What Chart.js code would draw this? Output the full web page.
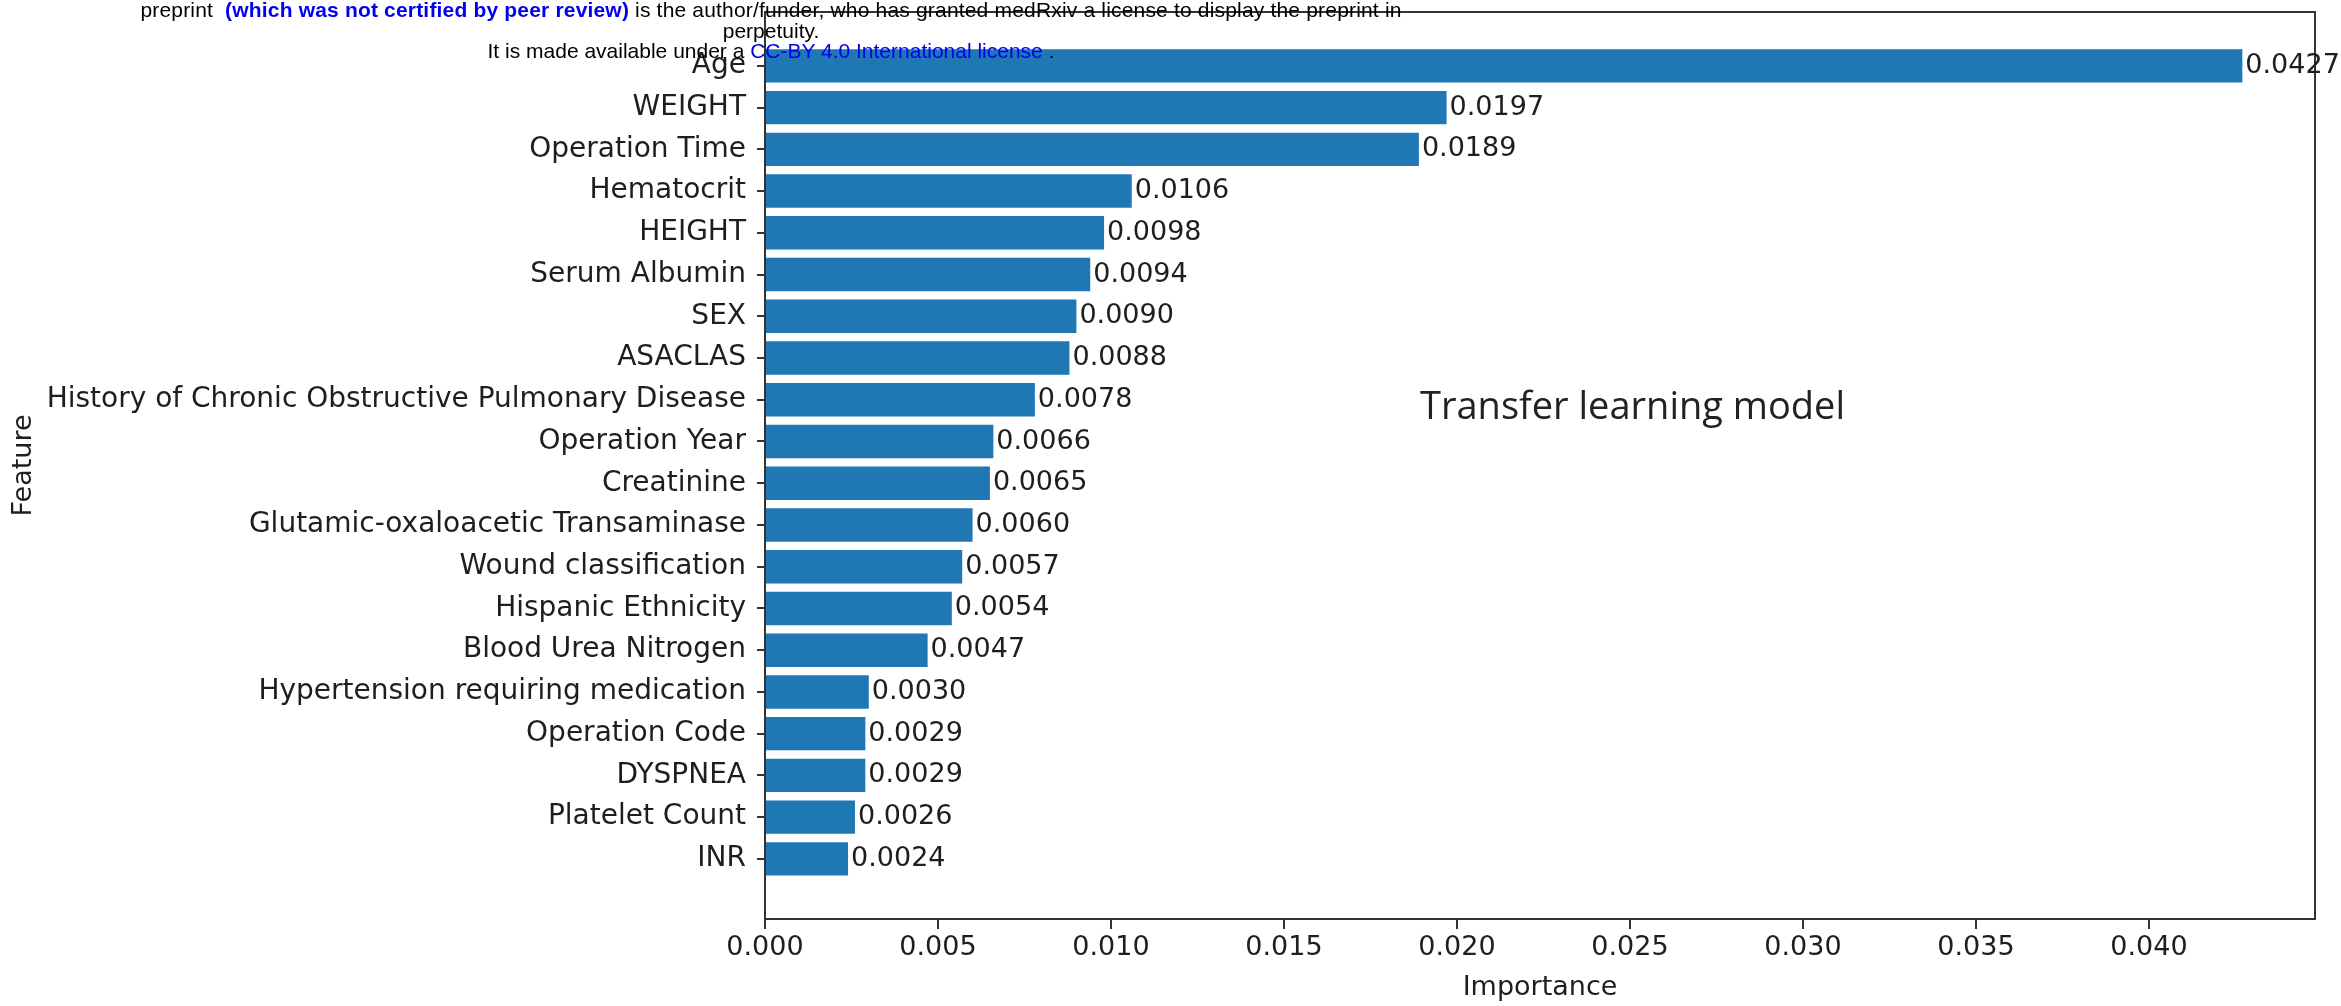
<!DOCTYPE html>
<html>
<head>
<meta charset="utf-8">
<title>Feature importance - transfer learning model</title>
<script src="https://cdn.jsdelivr.net/npm/chart.js@4.4.0/dist/chart.umd.min.js"></script>
<style>
  body { margin: 0; background: #fff; }
  #wrap { position: relative; width: 2341px; height: 1006px; overflow: hidden; }
  #notice {
    position: absolute; left: 0; top: 0; width: 1542px;
    text-align: center; white-space: pre; color: #000;
    font: 21px/20.5px "Liberation Sans", Arial, sans-serif;
  }
  #notice .first { letter-spacing: 0.18px; }
  #notice .blue { color: #0000ee; }
  #model {
    position: absolute; left: 1420px; top: 385px; white-space: nowrap;
    font: 38px/38px "Open Sans", sans-serif; color: #222;
  }
</style>
</head>
<body>
<div id="wrap">
  <canvas id="chart"></canvas>
  <div id="notice"><div class="first">preprint  <b class="blue">(which was not certified by peer review)</b> is the author/funder, who has granted medRxiv a license to display the preprint in</div><div>perpetuity.</div><div>It is made available under a <span class="blue">CC-BY 4.0 International license</span> .</div></div>
  <div id="model">Transfer learning model</div>
</div>
<script>
// features, top to bottom
const features = [
  "Age", "WEIGHT", "Operation Time", "Hematocrit", "HEIGHT",
  "Serum Albumin", "SEX", "ASACLAS",
  "History of Chronic Obstructive Pulmonary Disease",
  "Operation Year", "Creatinine", "Glutamic-oxaloacetic Transaminase",
  "Wound classification", "Hispanic Ethnicity", "Blood Urea Nitrogen",
  "Hypertension requiring medication", "Operation Code", "DYSPNEA",
  "Platelet Count", "INR"
];
const importance = [
  0.0427, 0.0197, 0.0189, 0.0106, 0.0098,
  0.0094, 0.0090, 0.0088,
  0.0078,
  0.0066, 0.0065, 0.0060,
  0.0057, 0.0054, 0.0047,
  0.0030, 0.0029, 0.0029,
  0.0026, 0.0024
];
const xTicks = [0.000, 0.005, 0.010, 0.015, 0.020, 0.025, 0.030, 0.035, 0.040];

const textColor = "#1e1e1e";
const lineColor = "#333";
const barColor = "#1f77b4";

Chart.defaults.font.family = "'DejaVu Sans'";
Chart.defaults.font.size = 27;
Chart.defaults.color = textColor;

// frame around the axes and the value printed at the end of each bar
const barValueLabels = {
  id: "barValueLabels",
  afterDatasetsDraw(chart) {
    const { ctx, chartArea } = chart;
    ctx.save();
    ctx.strokeStyle = lineColor;
    ctx.lineWidth = 2;
    ctx.strokeRect(chartArea.left, chartArea.top,
      chartArea.right - chartArea.left, chartArea.bottom - chartArea.top);
    ctx.font = "27px 'DejaVu Sans'";
    ctx.fillStyle = textColor;
    ctx.textBaseline = "middle";
    ctx.textAlign = "left";
    chart.getDatasetMeta(0).data.forEach((bar, i) => {
      ctx.fillText(importance[i].toFixed(4), bar.x + 3, bar.y);
    });
    ctx.restore();
  }
};

const ctx = document.getElementById("chart").getContext("2d");
new Chart(ctx, {
  type: "bar",
  data: {
    datasets: [{
      label: "Importance",
      data: features.map((f, i) => ({ x: importance[i], y: i })),
      backgroundColor: barColor,
      borderWidth: 0,
      barPercentage: 0.8,
      categoryPercentage: 1.0,
    }],
  },
  options: {
    indexAxis: "y",
    responsive: true,
    maintainAspectRatio: false,
    animation: false,
    layout: { padding: { top: 12, right: 26, left: 0, bottom: 0 } },
    plugins: {
      legend: { display: false },
      tooltip: { enabled: false },
    },
    scales: {
      x: {
        type: "linear",
        position: "bottom",
        offset: false,
        min: 0,
        max: 0.0448,
        afterBuildTicks: (s) => { s.ticks = xTicks.map((v) => ({ value: v })); },
        afterFit: (s) => { s.height = 87; s.paddingLeft = 0; s.paddingRight = 0; },
        ticks: {
          padding: 3,
          callback: (v) => Number(v).toFixed(3),
        },
        grid: { offset: false, drawOnChartArea: false, tickLength: 10, color: lineColor, lineWidth: 2 },
        border: { display: true, color: lineColor, width: 2 },
        title: {
          display: true,
          text: "Importance",
          padding: { top: 0, bottom: 2 },
        },
      },
      y: {
        type: "linear",
        reverse: true,
        offset: false,
        min: -1.29,
        max: 20.44,
        afterBuildTicks: (s) => { s.ticks = features.map((f, i) => ({ value: i })); },
        afterFit: (s) => { s.width = 765; s.paddingTop = 0; s.paddingBottom = 0; },
        ticks: {
          autoSkip: false,
          padding: 11,
          font: { size: 28 },
          callback: (v) => features[v],
        },
        grid: { offset: false, drawOnChartArea: false, tickLength: 8, color: lineColor, lineWidth: 2 },
        border: { display: true, color: lineColor, width: 2 },
        title: {
          display: true,
          text: "Feature",
          padding: { top: 8, bottom: 0 },
        },
      },
    },
  },
  plugins: [barValueLabels],
});
</script>
</body>
</html>
